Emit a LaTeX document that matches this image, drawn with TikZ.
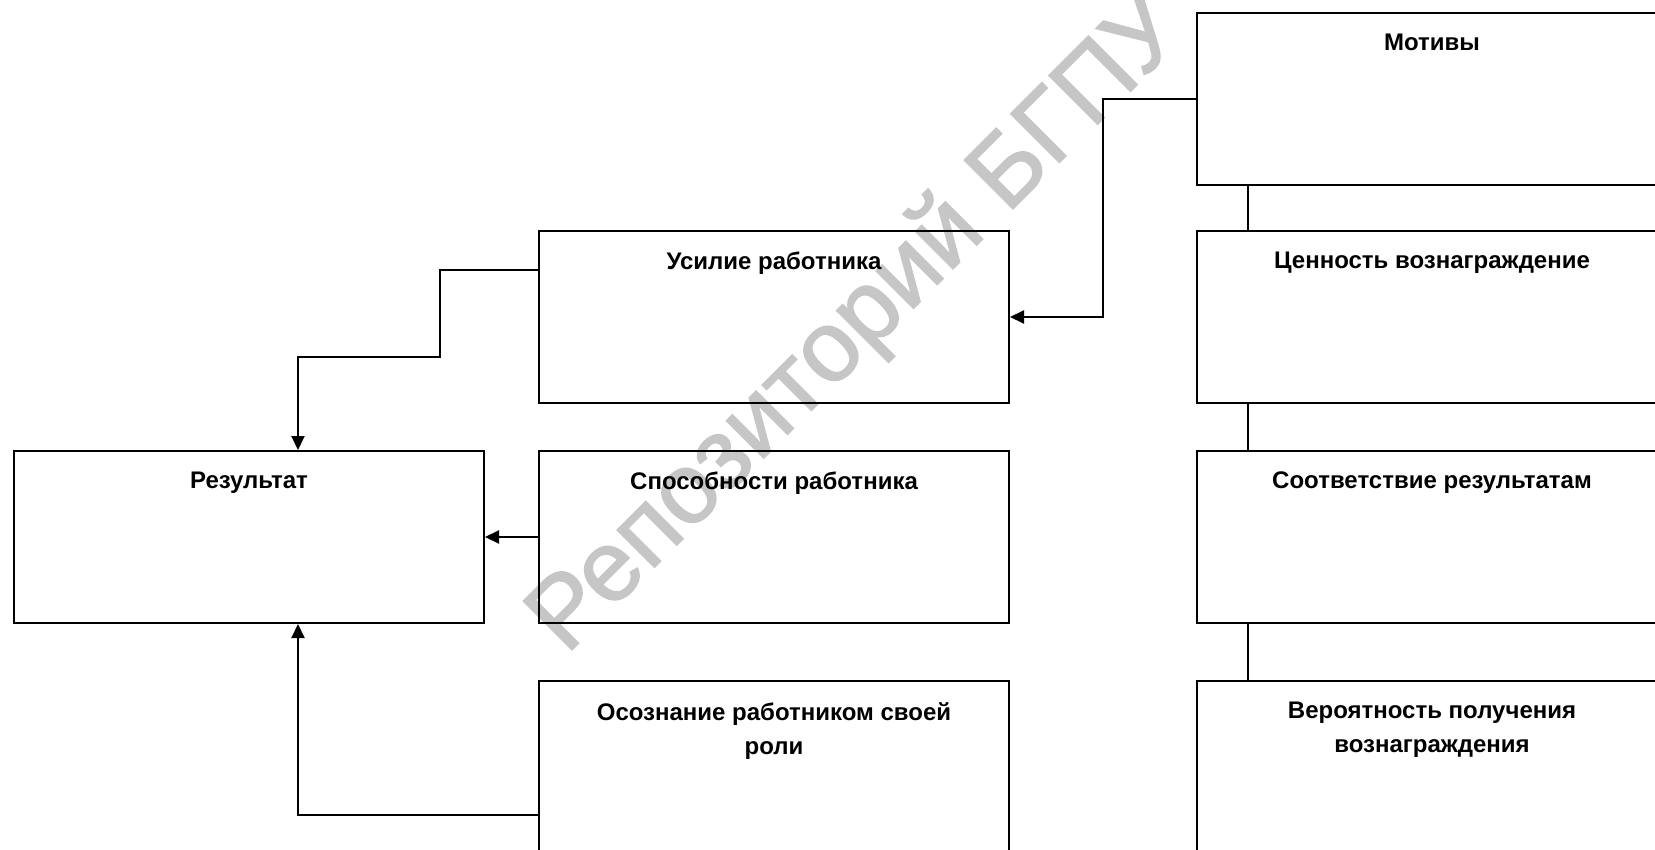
\documentclass[tikz,border=0pt]{standalone}
\usepackage{fontspec}
\setmainfont{Liberation Sans}
\newfontfamily\wmfont[FakeBold=1.5]{Liberation Sans}
\usetikzlibrary{arrows.meta}
\begin{document}
\begin{tikzpicture}[x=1pt, y=-1pt, line join=miter, >={Triangle[length=14pt,width=13pt]},
	box/.style={draw, line width=2pt, anchor=north west, inner sep=0pt, minimum width=470pt, minimum height=172pt},
	txt/.style={anchor=north, yshift=-22pt, inner sep=0pt, align=center, font=\fontsize{24}{34}\selectfont\bfseries},
	link/.style={line width=2pt},
	arr/.style={link, ->}]
	\useasboundingbox (0,0) rectangle (1655,850);
	\clip (0,0) rectangle (1655,850);
	\node[rotate=45, text=gray!45, font=\wmfont\fontsize{100}{100}\selectfont] (wm) at (858,326) {Репозиторий БГПУ};
	\node[box, label={[txt]north:Результат}] (res) at (13,450) {};
	\node[box, label={[txt]north:Усилие работника}] (eff) at (538,230) {};
	\node[box, label={[txt]north:Способности работника}] (abil) at (538,450) {};
	\node[box, label={[txt]north:{Осознание работником своей\\роли}}] (role) at (538,680) {};
	\node[box, label={[txt]north:Мотивы}] (mot) at (1196,12) {};
	\node[box, label={[txt]north:Ценность вознаграждение}] (val) at (1196,230) {};
	\node[box, label={[txt]north:Соответствие результатам}] (corr) at (1196,450) {};
	\node[box, label={[txt]north:{Вероятность получения\\вознаграждения}}] (prob) at (1196,680) {};
	\coordinate (k1) at (1103,99);
	\coordinate (k2) at (440,357);
	\draw[arr] (mot.west) -- (k1) |- (eff.east);
	\draw[arr] ([yshift=-40pt]eff.north west) -| (k2) -| ([xshift=285pt]res.north west);
	\draw[arr] (abil.west) -- (res.east);
	\draw[arr] ([yshift=-135pt]role.north west) -| ([xshift=285pt]res.south west);
	\foreach \a/\b in {mot/val,val/corr,corr/prob}
		\draw[link] ([xshift=52pt]\a.south west) -- ([xshift=52pt]\b.north west);
\end{tikzpicture}
\end{document}
